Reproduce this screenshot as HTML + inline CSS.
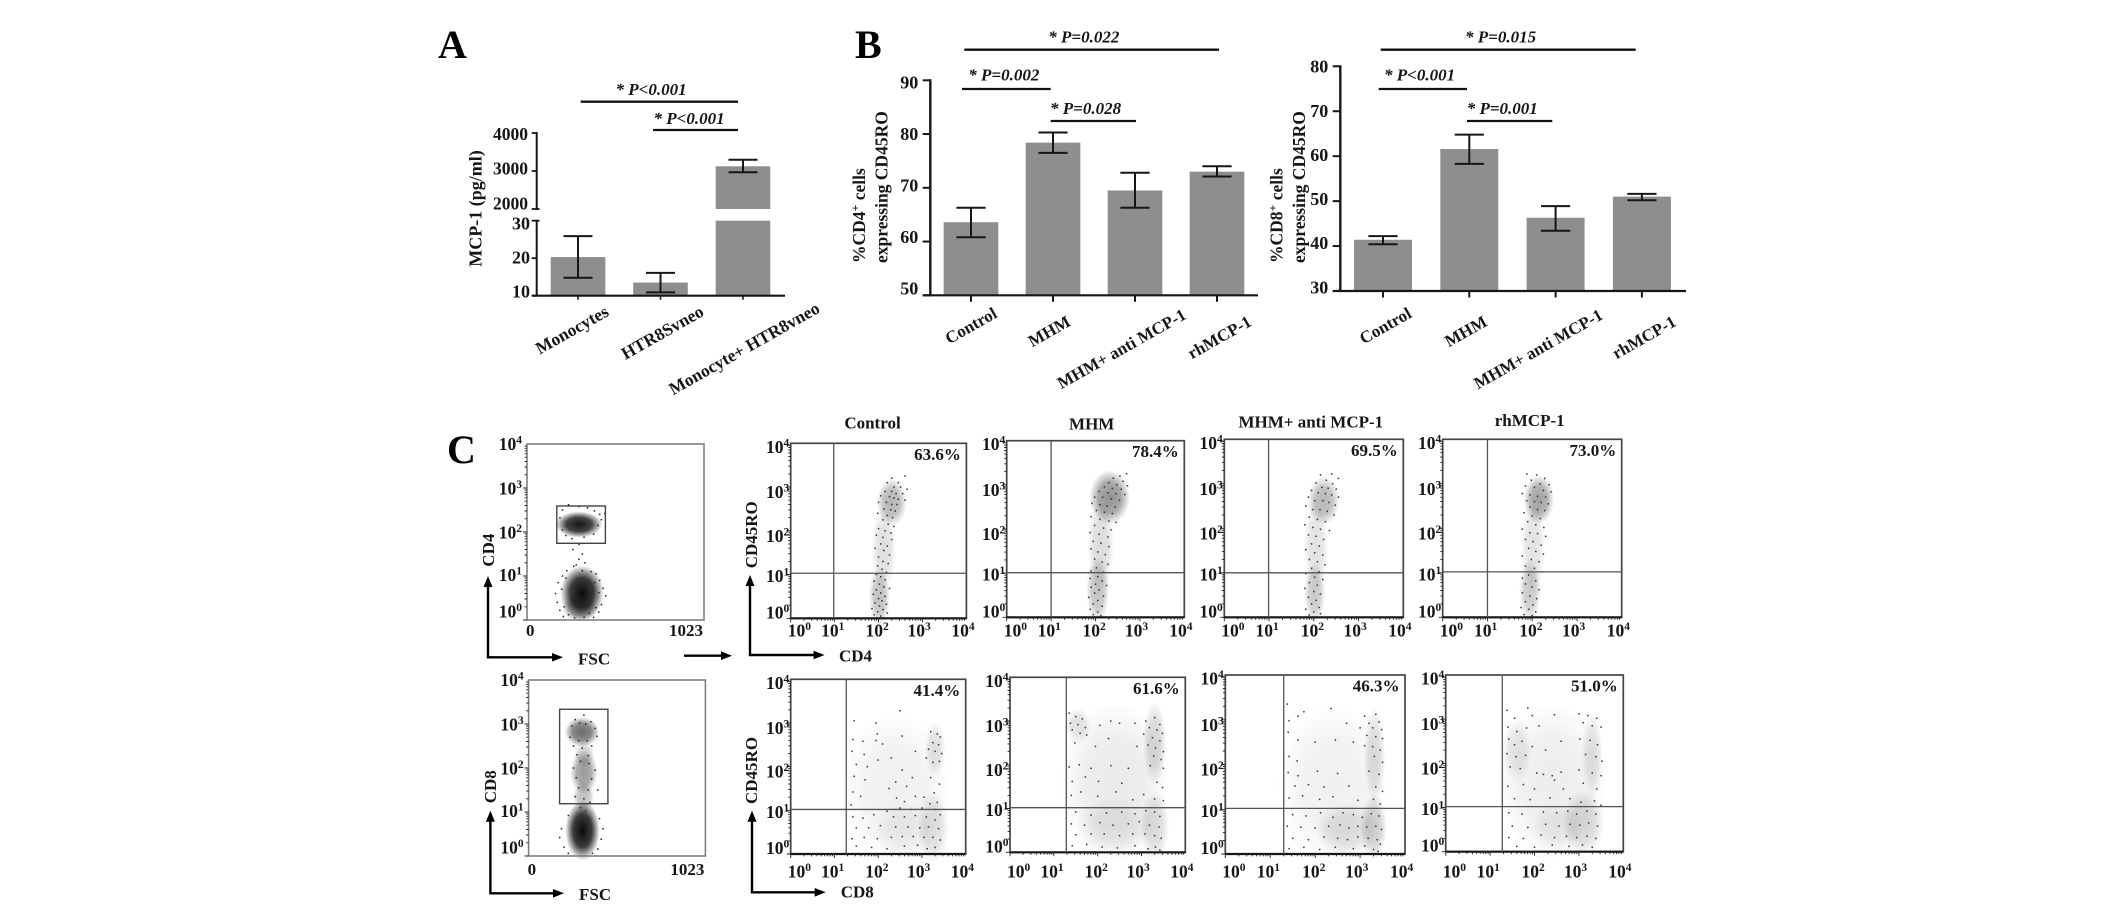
<!DOCTYPE html>
<html lang="en">
<head>
<meta charset="utf-8">
<title>MCP-1 and CD45RO expression figure</title>
<style>
html,body{margin:0;padding:0;background:#fff;}
svg{display:block;font-family:"Liberation Serif",serif;font-weight:bold;fill:#161616;}
.sig{font-style:italic;font-size:17px;}
.letter{font-size:40px;fill:#000;}
.lab{font-size:17px;}
.line{stroke:#111;stroke-width:2.3;fill:none;}
.arrow{stroke:#000;stroke-width:2.4;fill:none;}
</style>
</head>
<body>
<svg id="figure" xmlns="http://www.w3.org/2000/svg" width="2126" height="909" viewBox="0 0 2126 909">
<defs>
<radialGradient id="density">
<stop offset="0" stop-color="#0a0a0a" stop-opacity="1"/>
<stop offset="0.55" stop-color="#0a0a0a" stop-opacity="0.8"/>
<stop offset="1" stop-color="#0a0a0a" stop-opacity="0"/>
</radialGradient>
</defs>
<rect x="0" y="0" width="2126" height="909" fill="#fff"/>

<text class="letter" x="438" y="58">A</text>
<text class="letter" x="855" y="58">B</text>
<text class="letter" x="447" y="463">C</text>

<g>
<line class="line" x1="580.7" x2="738" y1="101.7" y2="101.7"/>
<line class="line" x1="653" x2="738" y1="130" y2="130"/>
<text class="sig" x="615.5" y="95">* P&lt;0.001</text>
<text class="sig" x="653.5" y="124">* P&lt;0.001</text>
</g>
<g>
<line class="line" x1="964.3" x2="1219" y1="49.7" y2="49.7"/>
<line class="line" x1="962" x2="1050.7" y1="89" y2="89"/>
<line class="line" x1="1050.7" x2="1136" y1="121" y2="121"/>
<text class="sig" x="1048.3" y="42.3">* P=0.022</text>
<text class="sig" x="968.3" y="80.7">* P=0.002</text>
<text class="sig" x="1050" y="114">* P=0.028</text>
</g>
<g>
<line class="line" x1="1380.7" x2="1635.7" y1="49.7" y2="49.7"/>
<line class="line" x1="1378.7" x2="1467" y1="89" y2="89"/>
<line class="line" x1="1467" x2="1552.3" y1="121" y2="121"/>
<text class="sig" x="1465" y="42.3">* P=0.015</text>
<text class="sig" x="1384" y="80.7">* P&lt;0.001</text>
<text class="sig" x="1466.7" y="114">* P=0.001</text>
</g>

<text font-size="18" transform="rotate(-90 481.7 266.7)" x="481.7" y="266.7">MCP-1 (pg/ml)</text>
<g font-size="17.5">
<text transform="rotate(-90 865 263)" x="865" y="263">%CD4<tspan dy="-6" font-size="12">+</tspan><tspan dy="6"> cells</tspan></text>
<text transform="rotate(-90 887.7 263)" x="887.7" y="263">expressing CD45RO</text>
</g>
<g font-size="17.5">
<text transform="rotate(-90 1282.7 263)" x="1282.7" y="263">%CD8<tspan dy="-6" font-size="12">+</tspan><tspan dy="6"> cells</tspan></text>
<text transform="rotate(-90 1305 263)" x="1305" y="263">expressing CD45RO</text>
</g>

<g text-anchor="middle" font-size="17">
<text x="872.5" y="428.3">Control</text>
<text x="1091.7" y="429.3">MHM</text>
<text x="1310.8" y="427.3">MHM+ anti MCP-1</text>
<text x="1529.7" y="426">rhMCP-1</text>
</g>

<g>
<path class="arrow" d="M488 658.5V584M486.8 657.3H555"/>
<polygon points="488,576 483.5,587 492.5,587" fill="#000"/>
<polygon points="563,657.3 552,653 552,661.6" fill="#000"/>
</g>
<g>
<path class="arrow" d="M750 656.2V583M748.8 655H817"/>
<polygon points="750,575 745.5,586 754.5,586" fill="#000"/>
<polygon points="824.6,655 813.6,650.7 813.6,659.3" fill="#000"/>
</g>
<g>
<line class="arrow" x1="684" x2="725" y1="655.7" y2="655.7"/>
<polygon points="732,655.7 721,651.4 721,660" fill="#000"/>
</g>
<g>
<path class="arrow" d="M490.4 894.5V819M489.2 893.3H556"/>
<polygon points="490.4,810.7 485.9,821.7 494.9,821.7" fill="#000"/>
<polygon points="564,893.3 553,889 553,897.6" fill="#000"/>
</g>
<g>
<path class="arrow" d="M752 893.5V819M750.8 892.3H818"/>
<polygon points="752,810.7 747.5,821.7 756.5,821.7" fill="#000"/>
<polygon points="825.7,892.3 814.7,888 814.7,896.6" fill="#000"/>
</g>

<g>
<text class="lab" x="578" y="664.3">FSC</text>
<text class="lab" transform="rotate(-90 494 566.7)" x="494" y="566.7">CD4</text>
<text class="lab" transform="rotate(-90 756.8 568.3)" x="756.8" y="568.3">CD45RO</text>
<text class="lab" x="839" y="661.7">CD4</text>
<text class="lab" x="579" y="900">FSC</text>
<text class="lab" transform="rotate(-90 496 803.3)" x="496" y="803.3">CD8</text>
<text class="lab" transform="rotate(-90 756.8 804)" x="756.8" y="804">CD45RO</text>
<text class="lab" x="840.7" y="897.7">CD8</text>
</g>
</svg>

<script>
/* ---------- bar chart data ---------- */
const panelACategories = ['Monocytes', 'HTR8Svneo', 'Monocyte+ HTR8vneo'];
const panelAMeans = [20.3, 13.5, 3124];
const panelAErrHigh = [25.9, 16.1, 3297];
const panelAErrLow = [14.8, 10.9, 2966];
const panelATicksUpper = [2000, 3000, 4000];
const panelATicksLower = [10, 20, 30];

const treatmentCategories = ['Control', 'MHM', 'MHM+ anti MCP-1', 'rhMCP-1'];
const cd4Means = [63.6, 78.4, 69.5, 73.0];
const cd4ErrHigh = [66.3, 80.3, 72.8, 74.0];
const cd4ErrLow = [60.8, 76.5, 66.3, 72.1];
const cd4Ticks = [50, 60, 70, 80, 90];

const cd8Means = [41.4, 61.6, 46.3, 51.0];
const cd8ErrHigh = [42.2, 64.8, 48.9, 51.6];
const cd8ErrLow = [40.4, 58.3, 43.4, 50.2];
const cd8Ticks = [30, 40, 50, 60, 70, 80];

/* ---------- flow cytometry data: [x decade, y decade] read by eye ---------- */
const flowDecades = [0, 1, 2, 3, 4];
const cd4Percents = ['63.6%', '78.4%', '69.5%', '73.0%'];
const cd8Percents = ['41.4%', '61.6%', '46.3%', '51.0%'];

const gateCd4Events = [[205,2.5],[240,2.62],[300,2.58],[350,2.55],[390,2.48],[420,2.4],[190,2.32],[205,2.05],[225,1.92],[260,1.85],[330,1.88],[385,1.95],[410,2.15],[430,2.28],[450,2.42],[300,1.72],[265,1.6],[320,1.5],[300,1.38],[285,1.25],[335,1.3],[205,1.0],[180,.85],[165,.6],[175,.4],[190,.22],[210,.08],[420,.9],[440,.72],[455,.55],[430,.35],[415,.18],[385,.06],[230,1.12],[270,1.22],[320,1.12],[370,1.1],[400,1.05],[215,.3],[240,.12],[275,.05],[330,.06],[360,.15],[400,.28],[200,.7],[225,.95],[415,.62],[390,.85]];
const gateCd4Density = [[300,2.17,135,.3,.95],[318,.62,125,.62,1],[305,.28,105,.32,.4]];

const gateCd8Events = [[250,2.95],[270,3.1],[320,3.2],[360,3.05],[385,2.9],[240,2.7],[395,2.72],[260,2.5],[310,2.45],[365,2.5],[280,2.3],[345,2.28],[300,2.15],[350,2.1],[260,2.0],[385,1.95],[275,1.78],[365,1.75],[290,1.55],[345,1.5],[400,1.5],[270,1.35],[320,1.3],[355,1.22],[300,1.1],[330,1.02],[230,.92],[410,.85],[190,.62],[430,.62],[180,.42],[420,.38],[205,.2],[400,.16],[230,.06],[370,.06],[290,2.62],[340,2.62],[330,3.0],[295,3.02]];
const gateCd8Density = [[309,2.82,100,.34,.6],[320,1.9,78,.5,.42],[322,2.3,60,.3,.2],[318,1.35,62,.35,.26],[312,.58,100,.68,1]];

const cd4ControlEvents = [[2.3,3.2],[2.6,3.25],[2.45,3.1],[2.2,3.1],[2.35,3.0],[2.5,3.0],[2.65,2.95],[2.15,2.9],[2.3,2.9],[2.4,2.85],[2.55,2.85],[2.05,2.8],[2.25,2.78],[2.35,2.75],[2.45,2.72],[2.6,2.7],[2.0,2.65],[2.18,2.65],[2.3,2.6],[2.42,2.6],[2.12,2.5],[2.28,2.48],[2.38,2.45],[1.98,2.4],[2.2,2.35],[2.32,2.3],[2.1,2.25],[2.22,2.15],[2.35,2.1],[2.0,2.05],[2.15,2.0],[2.28,1.95],[1.95,1.9],[2.1,1.85],[2.3,1.8],[2.05,1.7],[2.2,1.65],[1.92,1.6],[2.12,1.55],[2.25,1.45],[2.0,1.4],[2.1,1.3],[2.22,1.25],[1.98,1.2],[2.08,1.12],[2.18,1.05],[1.95,1.0],[2.05,.95],[2.15,.88],[1.9,.85],[2.02,.78],[2.12,.72],[2.25,.68],[1.95,.65],[2.05,.58],[1.88,.55],[2.15,.5],[2.0,.45],[2.08,.4],[1.92,.35],[2.18,.32],[2.02,.28],[1.85,.22],[2.1,.2],[1.98,.15],[2.2,.12],[1.9,.08],[2.05,.05]];
const cd4ControlDensity = [[2.3,2.65,.34,.55,.5],[2.12,1.6,.28,.95,.22],[2.02,.5,.24,.7,.42]];

const cd4MhmEvents = [[2.7,3.25],[2.55,3.2],[2.4,3.15],[2.62,3.08],[2.3,3.05],[2.48,3.0],[2.72,2.98],[2.2,2.95],[2.38,2.92],[2.58,2.9],[2.08,2.85],[2.28,2.82],[2.46,2.8],[2.66,2.78],[1.98,2.72],[2.16,2.72],[2.36,2.68],[2.54,2.65],[1.92,2.58],[2.1,2.55],[2.26,2.52],[2.44,2.5],[2.02,2.42],[2.2,2.38],[2.38,2.35],[1.9,2.28],[2.1,2.22],[2.3,2.18],[2.46,2.15],[1.98,2.08],[2.18,2.02],[2.35,1.98],[1.88,1.92],[2.08,1.88],[2.28,1.82],[1.95,1.72],[2.12,1.68],[2.3,1.6],[1.9,1.55],[2.05,1.48],[2.22,1.42],[1.98,1.32],[2.15,1.25],[2.28,1.2],[2.02,1.12],[1.9,1.05],[2.18,1.02],[2.05,.92],[1.88,.88],[2.15,.82],[2.0,.75],[2.25,.72],[1.9,.68],[2.08,.62],[1.98,.55],[2.18,.48],[1.85,.45],[2.05,.38],[1.95,.3],[2.15,.25],[1.88,.18],[2.05,.12],[1.95,.06],[2.12,.04]];
const cd4MhmDensity = [[2.32,2.72,.46,.62,.72],[2.12,1.65,.3,1.05,.24],[2.05,.62,.26,.76,.42]];

const cd4AntiEvents = [[2.15,3.2],[2.4,3.22],[2.55,3.12],[2.28,3.08],[2.05,3.02],[2.42,3.0],[2.18,2.92],[2.32,2.9],[2.5,2.88],[1.95,2.85],[2.1,2.8],[2.26,2.78],[2.4,2.75],[2.55,2.7],[1.88,2.7],[2.02,2.62],[2.2,2.62],[2.34,2.58],[2.48,2.52],[1.82,2.5],[1.98,2.42],[2.14,2.42],[2.3,2.38],[2.45,2.3],[1.9,2.25],[2.08,2.2],[2.26,2.15],[1.8,2.08],[1.98,2.02],[2.15,1.98],[2.35,1.95],[1.88,1.85],[2.05,1.82],[2.22,1.75],[1.95,1.65],[2.12,1.6],[1.82,1.52],[2.02,1.45],[2.2,1.4],[1.9,1.3],[2.08,1.25],[2.25,1.18],[1.95,1.1],[2.12,1.02],[1.82,.98],[2.02,.9],[2.2,.85],[1.9,.78],[2.08,.72],[1.8,.65],[2.0,.58],[2.15,.52],[1.88,.45],[2.05,.38],[1.95,.3],[2.12,.22],[1.82,.18],[2.0,.12],[2.15,.08],[1.9,.05]];
const cd4AntiDensity = [[2.22,2.62,.36,.55,.48],[2.05,1.6,.28,1.0,.2],[2.02,.55,.24,.7,.36]];

const cd4RhEvents = [[1.88,3.22],[2.1,3.2],[2.28,3.12],[1.98,3.08],[2.18,3.0],[2.38,2.98],[1.85,2.95],[2.05,2.92],[2.25,2.85],[2.42,2.82],[1.78,2.78],[1.95,2.75],[2.12,2.72],[2.3,2.7],[1.88,2.62],[2.05,2.6],[2.2,2.58],[2.36,2.55],[1.95,2.48],[2.12,2.42],[2.28,2.4],[1.82,2.35],[2.0,2.28],[2.18,2.22],[1.9,2.15],[2.08,2.08],[2.26,2.02],[1.78,1.98],[1.95,1.9],[2.12,1.88],[2.3,1.82],[1.85,1.75],[2.02,1.7],[2.2,1.62],[1.92,1.55],[2.08,1.48],[2.25,1.42],[1.78,1.38],[1.98,1.3],[2.15,1.25],[1.85,1.15],[2.05,1.1],[2.22,1.02],[1.92,.95],[1.78,.88],[2.08,.82],[1.85,.75],[2.0,.68],[2.15,.62],[1.78,.55],[1.95,.48],[2.1,.42],[1.85,.35],[2.02,.28],[1.75,.22],[1.92,.18],[2.08,.12],[1.82,.06],[2.0,.04]];
const cd4RhDensity = [[2.15,2.65,.34,.55,.62],[2.02,1.6,.27,1.05,.2],[1.95,.6,.24,.72,.36]];

const cd8ControlEvents = [[1.45,3.05],[1.95,3.0],[2.5,3.28],[1.98,2.75],[1.42,2.62],[1.65,2.58],[1.95,2.6],[2.1,2.52],[2.55,2.7],[3.2,2.8],[3.35,2.75],[3.42,2.68],[3.25,2.55],[3.38,2.5],[3.15,2.4],[3.3,2.35],[3.45,2.3],[2.85,2.35],[3.1,2.2],[3.25,2.1],[3.4,2.12],[1.4,2.35],[1.68,2.28],[1.5,2.05],[1.75,2.0],[2.0,2.15],[2.3,2.2],[2.55,1.92],[1.45,1.78],[1.7,1.7],[2.4,1.65],[2.78,1.75],[2.65,1.55],[3.2,1.75],[3.4,1.6],[3.28,1.4],[1.42,1.42],[1.6,1.32],[2.25,1.5],[2.42,1.28],[2.6,1.2],[2.85,1.32],[3.05,1.3],[3.18,1.15],[3.35,1.18],[1.38,1.12],[2.2,.98],[2.5,1.05],[2.75,1.02],[3.0,1.05],[3.3,1.02],[3.42,.9],[1.42,.85],[1.65,.82],[1.9,.9],[2.35,.85],[2.6,.85],[2.85,.88],[3.1,.85],[3.3,.78],[1.5,.6],[1.78,.6],[2.05,.65],[2.4,.62],[2.68,.62],[2.95,.6],[3.15,.62],[3.38,.58],[1.4,.35],[1.68,.38],[1.98,.35],[2.3,.38],[2.55,.4],[2.8,.4],[3.05,.38],[3.25,.38],[3.42,.32],[1.5,.18],[1.85,.15],[2.2,.12],[2.6,.18],[2.9,.2],[3.12,.12],[3.3,.15]];
const cd8ControlDensity = [[2.4,1.5,1.25,1.75,.1],[3.25,.6,.36,.85,.22],[3.3,2.4,.24,.65,.2],[2.6,.55,.7,.65,.1]];

const cd8MhmEvents = [[1.35,3.18],[1.5,3.1],[1.65,3.05],[1.38,2.95],[1.55,2.92],[1.72,2.85],[1.42,2.8],[1.6,2.72],[1.75,2.68],[2.05,2.9],[2.3,3.0],[2.5,2.95],[2.85,2.95],[3.1,3.0],[3.3,3.08],[3.42,2.92],[3.18,2.85],[3.35,2.8],[3.48,2.72],[3.05,2.7],[3.25,2.62],[3.42,2.55],[3.15,2.45],[3.32,2.38],[3.5,2.3],[1.48,2.5],[1.95,2.42],[2.25,2.6],[2.9,2.42],[3.28,2.2],[3.45,2.12],[1.35,1.95],[1.58,2.0],[1.85,1.92],[2.3,1.98],[2.7,1.92],[3.2,1.98],[3.5,1.92],[1.42,1.62],[1.72,1.72],[2.02,1.62],[2.55,1.58],[3.35,1.6],[3.48,1.48],[1.4,1.3],[1.62,1.38],[2.0,1.28],[2.42,1.38],[2.8,1.2],[3.05,1.32],[3.3,1.22],[3.5,1.18],[1.5,.92],[1.85,.85],[2.2,.9],[2.55,.92],[2.85,.88],[3.1,.95],[3.3,.92],[3.42,.82],[1.4,.65],[1.7,.62],[2.05,.68],[2.35,.62],[2.7,.65],[2.95,.7],[3.18,.62],[3.4,.58],[1.5,.4],[1.85,.42],[2.15,.42],[2.5,.38],[2.8,.42],[3.08,.42],[3.3,.38],[3.45,.32],[1.42,.15],[1.75,.18],[2.1,.12],[2.45,.1],[2.85,.15],[3.15,.08],[3.32,.12],[3.42,.05]];
const cd8MhmDensity = [[2.4,1.6,1.25,1.85,.14],[1.55,2.9,.3,.4,.2],[3.3,2.5,.27,.95,.28],[3.3,.6,.33,.8,.24],[2.4,.6,.9,.65,.14]];

const cd8AntiEvents = [[1.38,3.35],[1.75,3.18],[1.42,2.98],[1.62,3.08],[2.35,3.25],[3.1,3.08],[3.35,3.12],[3.42,2.95],[3.2,2.92],[2.7,2.92],[3.0,2.82],[3.28,2.82],[3.48,2.78],[1.4,2.72],[3.15,2.65],[3.35,2.62],[3.5,2.58],[1.62,2.55],[2.0,2.5],[2.45,2.55],[2.85,2.5],[3.1,2.42],[3.28,2.4],[3.45,2.32],[1.42,2.18],[1.6,2.08],[3.32,2.18],[3.5,2.05],[1.4,1.82],[1.62,1.75],[2.05,1.85],[2.5,1.8],[3.2,1.85],[3.42,1.78],[1.55,1.52],[1.85,1.55],[2.2,1.5],[2.75,1.52],[3.35,1.5],[3.5,1.4],[1.42,1.25],[1.72,1.3],[2.1,1.22],[2.4,1.28],[2.95,1.2],[3.3,1.22],[3.45,1.12],[1.5,.88],[1.8,.85],[2.12,.92],[2.4,.82],[2.62,.92],[2.85,.88],[3.05,.82],[3.25,.9],[3.42,.85],[1.38,.62],[1.68,.6],[2.0,.58],[2.3,.62],[2.55,.65],[2.75,.58],[2.95,.62],[3.15,.6],[3.35,.62],[3.48,.55],[1.5,.35],[1.85,.32],[2.2,.38],[2.5,.35],[2.72,.32],[2.95,.38],[3.18,.35],[3.38,.32],[3.45,.22],[1.42,.12],[1.75,.15],[2.1,.1],[2.45,.15],[2.85,.12],[3.1,.18],[3.3,.1],[3.4,.06]];
const cd8AntiDensity = [[2.4,1.55,1.25,1.8,.1],[3.32,2.2,.24,1.1,.24],[3.3,.6,.3,.75,.32],[2.7,.55,.7,.6,.2]];

const cd8RhEvents = [[1.38,3.2],[1.55,3.02],[1.85,3.25],[1.95,3.08],[2.45,3.1],[3.0,3.12],[3.2,3.08],[3.4,3.02],[1.4,2.82],[1.6,2.72],[1.82,2.8],[2.1,2.85],[3.1,2.92],[3.3,2.85],[3.5,2.82],[1.42,2.55],[1.55,2.42],[1.72,2.5],[1.95,2.38],[2.6,2.5],[3.02,2.55],[3.25,2.52],[3.42,2.42],[1.38,2.22],[1.58,2.15],[1.8,2.18],[2.25,2.3],[3.15,2.2],[3.38,2.15],[3.52,2.05],[1.45,1.92],[1.68,1.88],[2.05,1.78],[2.2,1.75],[2.4,1.72],[2.6,1.8],[2.45,1.62],[3.0,1.85],[3.3,1.78],[3.5,1.72],[1.4,1.48],[1.75,1.52],[2.0,1.42],[2.65,1.42],[3.1,1.55],[3.4,1.42],[1.55,1.2],[1.9,1.18],[2.35,1.22],[2.8,1.2],[3.05,1.12],[3.35,1.15],[3.5,1.05],[1.42,.88],[1.72,.85],[2.2,.9],[2.5,.88],[2.75,.92],[2.95,.85],[3.18,.92],[3.38,.85],[1.5,.58],[1.85,.55],[2.25,.62],[2.55,.58],[2.8,.62],[3.02,.6],[3.22,.65],[3.42,.58],[1.42,.32],[1.75,.3],[2.15,.38],[2.45,.32],[2.72,.35],[2.95,.32],[3.18,.35],[3.38,.3],[1.6,.12],[2.0,.1],[2.4,.15],[2.78,.12],[3.08,.15],[3.3,.1]];
const cd8RhDensity = [[2.4,1.6,1.25,1.8,.12],[1.6,2.3,.33,.75,.16],[3.3,2.2,.24,1.0,.2],[3.1,.65,.48,.75,.26],[2.5,.55,.6,.55,.12]];

/* ---------- drawing helpers ---------- */
const svg = document.getElementById('figure');
const NS = 'http://www.w3.org/2000/svg';

function add(parent, tag, name, attrs, text) {
  const el = document.createElementNS(NS, tag);
  
  
  for (const k in attrs) { el.setAttribute(k, attrs[k]); }
  if (text !== undefined) { el.textContent = text; }
  parent.appendChild(el);
  return el;
}
function lin(d0, d1, r0, r1) {
  return function (v) { return r0 + (v - d0) / (d1 - d0) * (r1 - r0); };
}
const BAR_FILL = '#8e8e8e';
const INK = '#161616';

function hLine(g, name, x1, x2, y, w) {
  add(g, 'line', name, { x1: x1, x2: x2, y1: y, y2: y, stroke: INK, 'stroke-width': w });
}
function vLine(g, name, x, y1, y2, w) {
  add(g, 'line', name, { x1: x, x2: x, y1: y1, y2: y2, stroke: INK, 'stroke-width': w });
}
function drawErr(g, cx, yHigh, yLow, capHalf) {
  vLine(g, 'error-bar-stem', cx, yHigh, yLow, 2);
  hLine(g, 'error-bar-cap-high', cx - capHalf, cx + capHalf, yHigh, 2);
  hLine(g, 'error-bar-cap-low', cx - capHalf, cx + capHalf, yLow, 2);
}
function rotatedLabel(g, text, x, y, size) {
  add(g, 'text', 'category-label', {
    x: x, y: y, 'text-anchor': 'end', 'font-size': size,
    transform: 'rotate(-29.5 ' + x + ' ' + y + ')'
  }, text);
}

/* ---------- panel A: broken axis bar chart ---------- */
(function () {
  const g = add(svg, 'g', 'panel-a-bar-chart', {});
  const axisX = 536.7, base = 295.7;
  const yLow = lin(10, 30, base, 220.7);
  const yHigh = lin(2000, 4000, 209, 133);
  const yAny = function (v) { return v <= 30 ? yLow(v) : yHigh(v); };
  const labelEnds = [[610, 315], [705, 315], [821, 311.7]];
  panelACategories.forEach(function (c, i) {
    const cx = 578 + i * 82.5;
    const m = panelAMeans[i];
    if (m > 30) {
      add(g, 'rect', 'bar-lower-segment', { x: cx - 27.3, y: yLow(30), width: 54.6, height: base - yLow(30), fill: BAR_FILL });
      add(g, 'rect', 'bar-upper-segment', { x: cx - 27.3, y: yHigh(m), width: 54.6, height: yHigh(2000) - yHigh(m), fill: BAR_FILL });
    } else {
      add(g, 'rect', 'bar', { x: cx - 27.3, y: yLow(m), width: 54.6, height: base - yLow(m), fill: BAR_FILL });
    }
    drawErr(g, cx, yAny(panelAErrHigh[i]), yAny(panelAErrLow[i]), 14.5);
    vLine(g, 'x-tick', cx, base, base + 4, 1.6);
    rotatedLabel(g, c, labelEnds[i][0], labelEnds[i][1], 17.5);
  });
  vLine(g, 'y-axis-upper', axisX, yHigh(4000) - 1, yHigh(2000) + 1, 2);
  vLine(g, 'y-axis-lower', axisX, yLow(30) - 1, base, 2);
  hLine(g, 'x-axis', 532, 785, base, 2.2);
  panelATicksUpper.forEach(function (t, i) {
    const y = yHigh(t);
    hLine(g, 'y-tick', 531.7, i === 0 ? 539.5 : axisX, y, 1.8);
    add(g, 'text', 'y-tick-label', { x: 528, y: y + 0.3 + i * 3.4, 'text-anchor': 'end', 'font-size': 17.5 }, String(t));
  });
  panelATicksLower.forEach(function (t, i) {
    const y = yLow(t);
    hLine(g, 'y-tick', 531.7, i === 2 ? 539.5 : axisX, y, 1.8);
    add(g, 'text', 'y-tick-label', { x: 530, y: y + 1.6 + i * 3.5, 'text-anchor': 'end', 'font-size': 18 }, String(t));
  });
})();

/* ---------- panel B: two bar charts ---------- */
function drawBarPanel(cfg) {
  const g = add(svg, 'g', cfg.name, {});
  const y = lin(cfg.ticks[0], cfg.ticks[cfg.ticks.length - 1], cfg.base, cfg.top);
  treatmentCategories.forEach(function (c, i) {
    const cx = cfg.first + i * cfg.step;
    add(g, 'rect', 'bar', { x: cx - cfg.barW / 2, y: y(cfg.means[i]), width: cfg.barW, height: cfg.base - y(cfg.means[i]), fill: BAR_FILL });
    drawErr(g, cx, y(cfg.high[i]), y(cfg.low[i]), 14.6);
    vLine(g, 'x-tick', cx, cfg.base, cfg.base + 6.5, 2);
    rotatedLabel(g, c, cfg.labelEnds[i][0], cfg.labelEnds[i][1], 17);
  });
  vLine(g, 'y-axis', cfg.axisX, cfg.top - 1, cfg.base + 1, 2.4);
  hLine(g, 'x-axis', cfg.axisX - 7.6, cfg.right, cfg.base, 2.2);
  cfg.ticks.forEach(function (t, i) {
    const py = y(t);
    hLine(g, 'y-tick', cfg.axisX - 7.6, cfg.axisX, py, 2);
    const nudge = cfg.nudgeBottom + (cfg.nudgeTop - cfg.nudgeBottom) * i / (cfg.ticks.length - 1);
    add(g, 'text', 'y-tick-label', { x: cfg.axisX - 12, y: py + nudge, 'text-anchor': 'end', 'font-size': 18 }, String(t));
  });
}
drawBarPanel({
  name: 'panel-b-cd4-bar-chart', ticks: cd4Ticks, means: cd4Means, high: cd4ErrHigh, low: cd4ErrLow,
  axisX: 930.3, top: 80.3, base: 295.3, first: 971, step: 82, barW: 54.7, right: 1258,
  nudgeBottom: -1, nudgeTop: 8,
  labelEnds: [[998.3, 316.7], [1071.7, 325], [1187.3, 318], [1252.7, 325]]
});
drawBarPanel({
  name: 'panel-b-cd8-bar-chart', ticks: cd8Ticks, means: cd8Means, high: cd8ErrHigh, low: cd8ErrLow,
  axisX: 1340.3, top: 66.3, base: 291, first: 1383, step: 86.3, barW: 58, right: 1686,
  nudgeBottom: 2.3, nudgeTop: 6.4,
  labelEnds: [[1412.7, 316.7], [1488.3, 325], [1604, 318.3], [1677.3, 325]]
});

/* ---------- panel C: flow cytometry ---------- */
const flowYTickNudge = [0, 7.5, 11, 11, 9.5];
const gateYTickNudge = [-2.5, 5, 6.5, 6.5, 6];
const xTickNudge = [-3, -13.5, -13, -15, -15];
const FLOW_DENSITY_GAIN = 0.62;

function powerLabel(g, name, exp, x, y, anchor) {
  const t = add(g, 'text', name, { x: x, y: y, 'text-anchor': anchor, 'font-size': 17.5 });
  const base = document.createTextNode('10');
  t.appendChild(base);
  const s = add(t, 'tspan', 'tick-exponent', { dy: -6.5, 'font-size': 11.5 }, String(exp));
  return s;
}
function minorTicks(g, name, x0, x1, y0, y1, vertical) {
  let d = '';
  for (let dec = 0; dec < 4; dec++) {
    for (let k = 1; k < 10; k++) {
      const f = (dec + Math.log10(k)) / 4;
      const len = k === 1 ? 4 : 2.4;
      if (vertical) {
        const py = y1 - f * (y1 - y0);
        d += 'M' + (x0 - len) + ' ' + py.toFixed(1) + 'H' + x0;
      } else {
        const px = x0 + f * (x1 - x0);
        d += 'M' + px.toFixed(1) + ' ' + y1 + 'V' + (y1 + len);
      }
    }
  }
  add(g, 'path', name, { d: d, stroke: '#222', 'stroke-width': 0.9, fill: 'none' });
}
function drawEvents(g, events, density, xs, ys, rx, ry, dotFill, gain) {
  density.forEach(function (b) {
    add(g, 'ellipse', 'event-density', {
      cx: xs(b[0]), cy: ys(b[1]), rx: Math.abs(rx(b[2])), ry: Math.abs(ry(b[3])),
      fill: 'url(#density)', opacity: b[4] * gain
    });
  });
  events.forEach(function (p) {
    add(g, 'rect', 'flow-event', { x: xs(p[0]) - 0.75, y: ys(p[1]) - 0.75, width: 1.5, height: 1.5, fill: dotFill });
  });
}

function drawGatePlot(cfg) {
  const g = add(svg, 'g', cfg.name, {});
  const b = cfg.box;
  const xs = lin(0, 1023, b[0], b[2]);
  const ys = lin(0, 4, b[3], b[1]);
  const rx = function (v) { return v / 1023 * (b[2] - b[0]); };
  const ry = function (v) { return v / 4 * (b[3] - b[1]); };
  drawEvents(g, cfg.events, cfg.density, xs, ys, rx, ry, '#222', 1);
  add(g, 'rect', 'plot-frame', { x: b[0], y: b[1], width: b[2] - b[0], height: b[3] - b[1], fill: 'none', stroke: '#808080', 'stroke-width': 1.6 });
  add(g, 'rect', 'gate-rectangle', { x: cfg.gate[0], y: cfg.gate[1], width: cfg.gate[2] - cfg.gate[0], height: cfg.gate[3] - cfg.gate[1], fill: 'none', stroke: '#444', 'stroke-width': 1.4 });
  minorTicks(g, 'y-minor-ticks', b[0], b[2], b[1], b[3], true);
  flowDecades.forEach(function (e) {
    powerLabel(g, 'y-tick-label', e, b[0] - 5, ys(e) + gateYTickNudge[e], 'end');
  });
  add(g, 'text', 'x-tick-label-zero', { x: b[0] - 1, y: cfg.labelY, 'font-size': 17 }, '0');
  add(g, 'text', 'x-tick-label-max', { x: b[2] - 1, y: cfg.labelY, 'font-size': 17, 'text-anchor': 'end' }, '1023');
}

function drawFlowPlot(cfg) {
  const g = add(svg, 'g', cfg.name, {});
  const b = cfg.box;
  const xs = lin(0, 4, b[0], b[2]);
  const ys = lin(0, 4, b[3], b[1]);
  const rx = function (v) { return v / 4 * (b[2] - b[0]); };
  const ry = function (v) { return v / 4 * (b[3] - b[1]); };
  drawEvents(g, cfg.events, cfg.density, xs, ys, rx, ry, '#333', FLOW_DENSITY_GAIN);
  add(g, 'rect', 'plot-frame', { x: b[0], y: b[1], width: b[2] - b[0], height: b[3] - b[1], fill: 'none', stroke: '#444', 'stroke-width': 1.7 });
  hLine(g, 'plot-baseline', b[0], b[2], b[3], 2.2);
  add(g, 'line', 'quadrant-vertical', { x1: xs(cfg.quad[0]), x2: xs(cfg.quad[0]), y1: b[1], y2: b[3], stroke: '#555', 'stroke-width': 1.3 });
  add(g, 'line', 'quadrant-horizontal', { x1: b[0], x2: b[2], y1: ys(cfg.quad[1]), y2: ys(cfg.quad[1]), stroke: '#555', 'stroke-width': 1.3 });
  minorTicks(g, 'y-minor-ticks', b[0], b[2], b[1], b[3], true);
  minorTicks(g, 'x-minor-ticks', b[0], b[2], b[1], b[3], false);
  add(g, 'text', 'percent-label', { x: b[2] - 5.5, y: b[1] + 16.5, 'text-anchor': 'end', 'font-size': 17 }, cfg.percent);
  flowDecades.forEach(function (e) {
    powerLabel(g, 'y-tick-label', e, b[0] - 1.5, ys(e) + flowYTickNudge[e], 'end');
    powerLabel(g, 'x-tick-label', e, xs(e) + xTickNudge[e], cfg.labelY, 'start');
  });
}

drawGatePlot({ name: 'gate-plot-cd4', box: [527, 444, 704, 620], gate: [556.8, 506, 605.4, 543.3], labelY: 636, events: gateCd4Events, density: gateCd4Density });
drawGatePlot({ name: 'gate-plot-cd8', box: [528.6, 680, 705.4, 856], gate: [559.6, 709.3, 607.9, 803.7], labelY: 875, events: gateCd8Events, density: gateCd8Density });

drawFlowPlot({ name: 'flow-cd4-control', box: [790.7, 443.3, 966.4, 618.3], quad: [.98, 1.03], percent: cd4Percents[0], labelY: 636.5, events: cd4ControlEvents, density: cd4ControlDensity });
drawFlowPlot({ name: 'flow-cd4-mhm', box: [1006.7, 440.7, 1184.3, 617.3], quad: [1.0, 1.01], percent: cd4Percents[1], labelY: 636.7, events: cd4MhmEvents, density: cd4MhmDensity });
drawFlowPlot({ name: 'flow-cd4-anti-mcp1', box: [1224.3, 439.3, 1403.3, 617.3], quad: [.99, 1.0], percent: cd4Percents[2], labelY: 636.7, events: cd4AntiEvents, density: cd4AntiDensity });
drawFlowPlot({ name: 'flow-cd4-rhmcp1', box: [1442.7, 439.3, 1621.7, 617.3], quad: [1.0, 1.02], percent: cd4Percents[3], labelY: 636.7, events: cd4RhEvents, density: cd4RhDensity });

drawFlowPlot({ name: 'flow-cd8-control', box: [790.7, 679.3, 965.7, 854], quad: [1.27, 1.02], percent: cd8Percents[0], labelY: 877.7, events: cd8ControlEvents, density: cd8ControlDensity });
drawFlowPlot({ name: 'flow-cd8-mhm', box: [1010, 677.3, 1185.3, 852.3], quad: [1.285, 1.02], percent: cd8Percents[1], labelY: 877.7, events: cd8MhmEvents, density: cd8MhmDensity });
drawFlowPlot({ name: 'flow-cd8-anti-mcp1', box: [1225.3, 675, 1405, 854], quad: [1.3, 1.02], percent: cd8Percents[2], labelY: 877.7, events: cd8AntiEvents, density: cd8AntiDensity });
drawFlowPlot({ name: 'flow-cd8-rhmcp1', box: [1445.7, 675, 1623.3, 851.7], quad: [1.275, 1.02], percent: cd8Percents[3], labelY: 877.7, events: cd8RhEvents, density: cd8RhDensity });
</script>
</body>
</html>
